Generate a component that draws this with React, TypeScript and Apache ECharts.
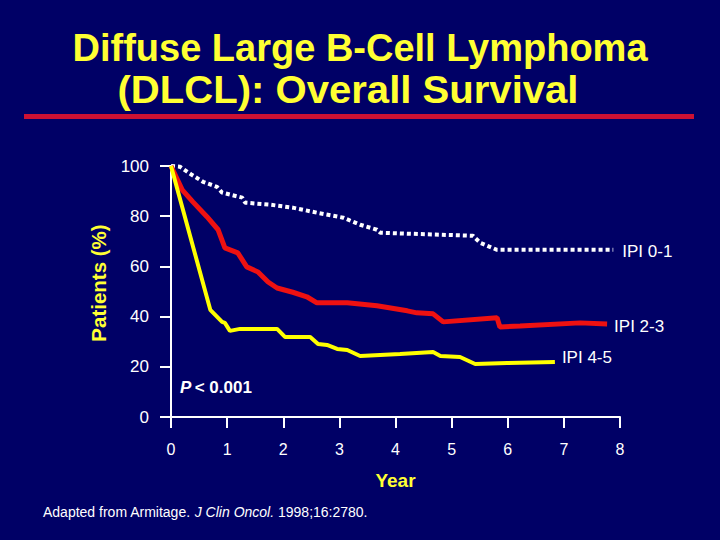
import React, { useEffect, useRef } from "react";
import * as echarts from "echarts";

const xTicks = [0, 1, 2, 3, 4, 5, 6, 7, 8];
const yTicks = [0, 20, 40, 60, 80, 100];

const ipi01Years = [0, 0.16, 0.37, 0.57, 0.82, 0.91, 1.27, 1.32, 1.76, 2.17, 2.6, 3.07, 3.37, 3.67, 3.73, 5.38, 5.51, 5.81, 7.88];
const ipi01Pct = [100, 99.7, 96.5, 93.7, 91.7, 89.4, 87.4, 85.4, 84.6, 83.4, 81.4, 79.4, 76.6, 74.6, 73.4, 72.2, 69.4, 66.6, 66.6];

const ipi23Years = [0, 0.2, 0.39, 0.64, 0.84, 0.96, 1.19, 1.35, 1.55, 1.73, 1.89, 2.17, 2.42, 2.6, 3.14, 3.67, 4.21, 4.38, 4.67, 4.85, 5.81, 5.86, 6.22, 7.29, 7.77];
const ipi23Pct = [100, 90.5, 85.7, 79.8, 74.6, 67.4, 65.4, 59.8, 57.8, 53.8, 51.4, 49.7, 47.9, 45.5, 45.5, 44.3, 42.3, 41.5, 41.1, 37.9, 39.5, 35.9, 36.3, 37.5, 37.1];

const ipi45Years = [0, 0.7, 0.91, 0.96, 1.05, 1.23, 1.89, 2.03, 2.48, 2.62, 2.78, 2.96, 3.14, 3.37, 4.08, 4.67, 4.8, 5.15, 5.42, 5.99, 6.84];
const ipi45Pct = [100, 42.7, 37.9, 37.5, 34.3, 35.1, 35.1, 31.9, 31.9, 29.1, 28.7, 27.1, 26.7, 24.3, 25.1, 25.9, 24.3, 23.9, 21.1, 21.5, 21.9];

const seriesNames = ["IPI 0-1", "IPI 2-3", "IPI 4-5"];
const titleLines = ["Diffuse Large B-Cell Lymphoma", "(DLCL): Overall Survival"];

const pairs = (xs: number[], ys: number[]) => xs.map((x, i) => [x, ys[i]]);

export default function App() {
  const ref = useRef<HTMLDivElement>(null);
  useEffect(() => {
    if (!ref.current) return;
    const chart = echarts.init(ref.current, null, { renderer: "svg" });
    const font = "Liberation Sans, Arial, sans-serif";
    chart.setOption({
      animation: false,
      backgroundColor: "#000066",
      textStyle: { fontFamily: font },
      grid: { left: 171, right: 100, top: 166, bottom: 123 },
      xAxis: {
        type: "value",
        min: 0,
        max: 8,
        interval: 1,
        offset: 5,
        name: "Year",
        nameLocation: "middle",
        nameGap: 49,
        nameTextStyle: { color: "#ffff33", fontSize: 19, fontWeight: "bold", fontFamily: font },
        axisLine: { show: true, lineStyle: { color: "#ffffff", width: 2 } },
        axisTick: { show: true, length: 11, lineStyle: { color: "#ffffff", width: 2 } },
        axisLabel: {
          color: "#ffffff",
          fontSize: 16,
          margin: 19,
          fontFamily: font,
          formatter: (v: number) => (xTicks.includes(v) ? String(v) : ""),
        },
        splitLine: { show: false },
      },
      yAxis: {
        type: "value",
        min: 0,
        max: 100,
        interval: 20,
        axisLine: { show: true, lineStyle: { color: "#ffffff", width: 2 } },
        axisTick: { show: true, length: 11, lineStyle: { color: "#ffffff", width: 2 } },
        axisLabel: {
          color: "#ffffff",
          fontSize: 17,
          margin: 22,
          fontFamily: font,
          formatter: (v: number) => (yTicks.includes(v) ? String(v) : ""),
        },
        splitLine: { show: false },
      },
      series: [
        {
          name: seriesNames[0],
          type: "line",
          data: pairs(ipi01Years, ipi01Pct),
          showSymbol: false,
          lineStyle: { color: "#ffffff", width: 4, type: [4, 3], cap: "butt" },
          endLabel: { show: true, formatter: "{a}", color: "#ffffff", fontSize: 17, distance: 9, offset: [0, 2], fontFamily: font },
        },
        {
          name: seriesNames[1],
          type: "line",
          data: pairs(ipi23Years, ipi23Pct),
          showSymbol: false,
          lineStyle: { color: "#ee1111", width: 5 },
          endLabel: { show: true, formatter: "{a}", color: "#ffffff", fontSize: 17, distance: 7, offset: [0, 3], fontFamily: font },
        },
        {
          name: seriesNames[2],
          type: "line",
          data: pairs(ipi45Years, ipi45Pct),
          showSymbol: false,
          lineStyle: { color: "#ffff00", width: 4 },
          endLabel: { show: true, formatter: "{a}", color: "#ffffff", fontSize: 17, distance: 7, offset: [0, -5], fontFamily: font },
        },
      ],
      graphic: [
        {
          type: "text",
          x: 360,
          y: 48,
          style: {
            text: titleLines[0],
            fill: "#ffff33",
            font: `bold 38px ${font}`,
            textAlign: "center",
            textVerticalAlign: "middle",
          },
        },
        {
          type: "text",
          x: 348,
          y: 90,
          scaleX: 1.055,
          style: {
            text: titleLines[1],
            fill: "#ffff33",
            font: `bold 38px ${font}`,
            textAlign: "center",
            textVerticalAlign: "middle",
          },
        },
        {
          type: "rect",
          shape: { x: 24, y: 114, width: 670, height: 5 },
          style: { fill: "#cc1133" },
        },
        {
          type: "text",
          x: 98,
          y: 283,
          rotation: Math.PI / 2,
          style: {
            text: "Patients (%)",
            fill: "#ffff33",
            font: `bold 20.5px ${font}`,
            textAlign: "center",
            textVerticalAlign: "middle",
          },
        },
        {
          type: "text",
          x: 180,
          y: 387,
          style: {
            text: "{p|P} {b|< 0.001}",
            textVerticalAlign: "middle",
            rich: {
              p: { fill: "#ffffff", font: `italic bold 17px ${font}` },
              b: { fill: "#ffffff", font: `bold 17px ${font}` },
            },
          },
        },
        {
          type: "text",
          x: 43,
          y: 512,
          style: {
            text: "{n|Adapted from Armitage. }{i|J Clin Oncol.}{n| 1998;16:2780.}",
            textVerticalAlign: "middle",
            rich: {
              n: { fill: "#ffffff", font: `14px ${font}` },
              i: { fill: "#ffffff", font: `italic 14px ${font}` },
            },
          },
        },
      ],
    });
    return () => chart.dispose();
  }, []);
  return <div ref={ref} style={{ position: "fixed", left: 0, top: 0, width: 720, height: 540 }} />;
}
